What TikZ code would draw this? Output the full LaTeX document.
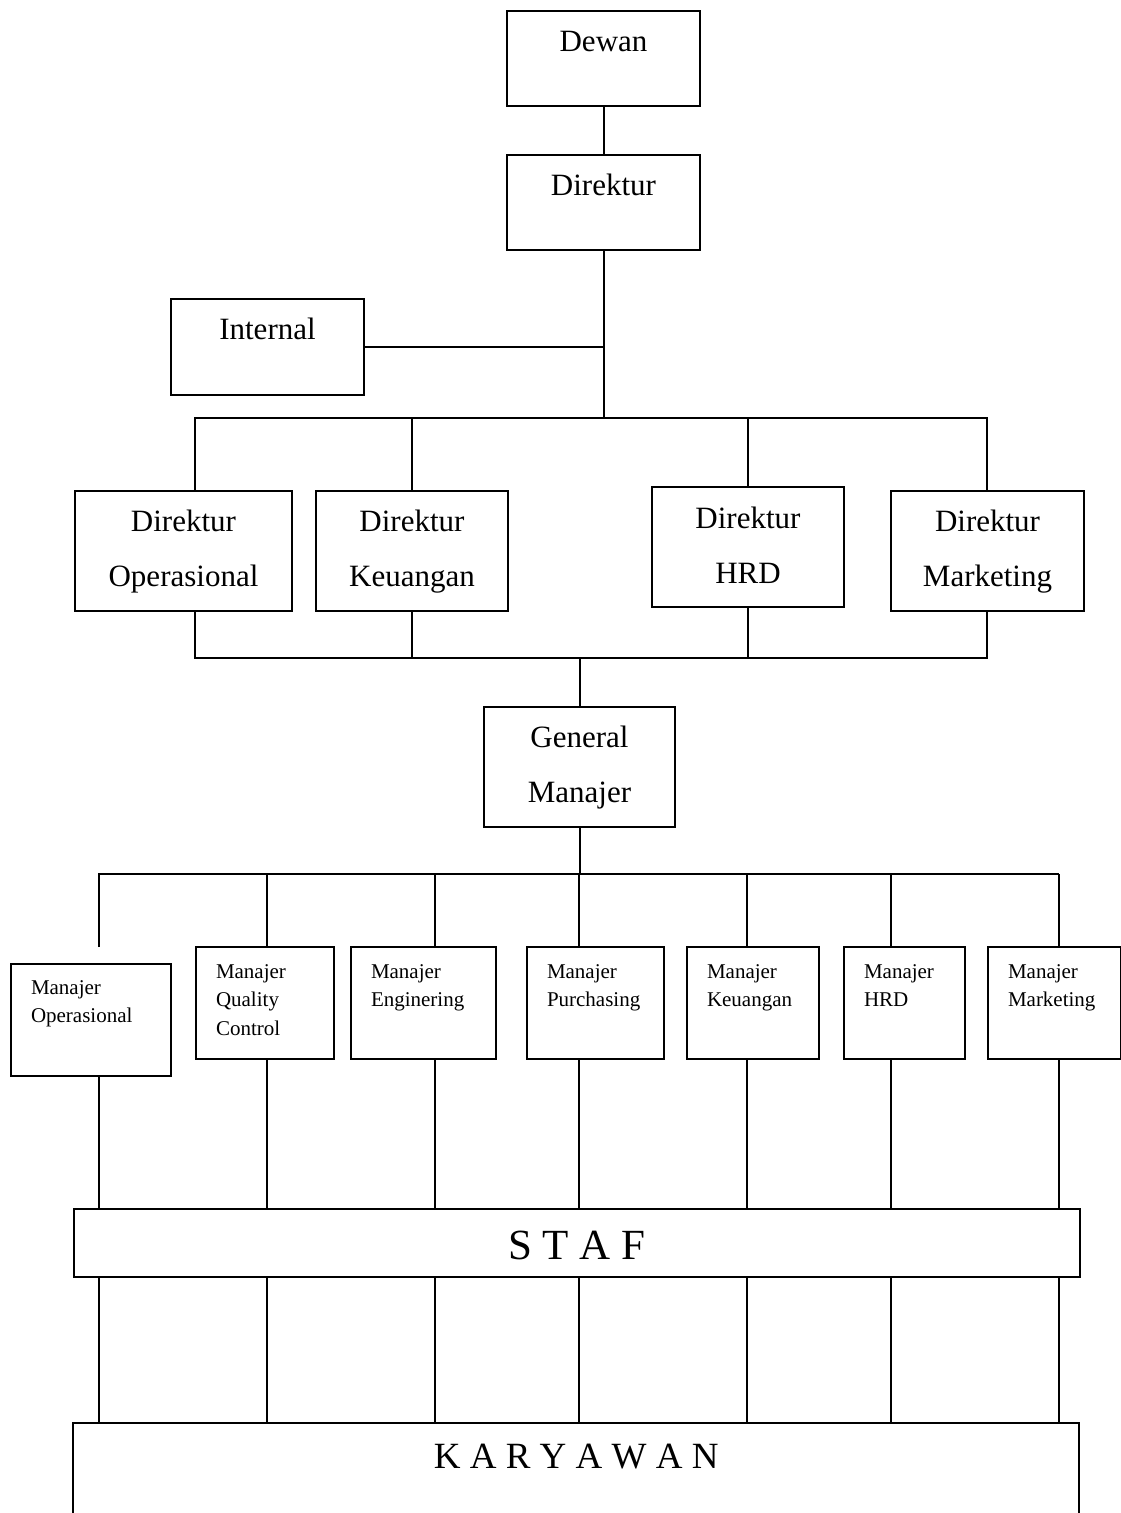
\documentclass[tikz,border=0pt]{standalone}
\usepackage{fontspec}
\setmainfont{Liberation Serif}
\newcommand\ccol[1]{\begin{tabular}[t]{@{}c@{}}#1\end{tabular}}
\newcommand\lcol[1]{\begin{tabular}[t]{@{}l@{}}#1\end{tabular}}
\begin{document}
\begin{tikzpicture}[x=1pt,y=-1pt,
  lw/.style={line width=2pt},
  bigbox/.style={draw, lw, inner sep=0pt, anchor=north west,
    font=\fontsize{31}{55}\selectfont, text height=40pt},
  smallbox/.style={draw, lw, inner ysep=0pt, inner xsep=20pt, anchor=north west,
    align=left, font=\fontsize{21}{28.5}\selectfont, text depth=81pt},
  conn/.style={lw}]
\useasboundingbox (0,0) rectangle (1121,1513);

% top level
\node[bigbox, minimum width=193pt, text depth=55pt] (dewan) at (506,10) {Dewan};
\node[bigbox, minimum width=193pt, text depth=55pt] (direktur) at (506,154) {Direktur};
\node[bigbox, minimum width=193pt, text depth=56pt] (internal) at (170,298) {Internal};

% directors
\node[bigbox, minimum width=217pt, text depth=80pt] (dop) at (74,490) {\ccol{Direktur\\Operasional}};
\node[bigbox, minimum width=192pt, text depth=80pt] (dkeu) at (315,490) {\ccol{Direktur\\Keuangan}};
\node[bigbox, minimum width=192pt, text depth=79pt, text height=41pt] (dhrd) at (651,486) {\ccol{Direktur\\HRD}};
\node[bigbox, minimum width=193pt, text depth=80pt] (dmkt) at (890,490) {\ccol{Direktur\\Marketing}};

\node[bigbox, minimum width=191pt, text depth=80pt] (gm) at (483,706) {\ccol{General\\Manajer}};

% managers
\node[smallbox, text width=120pt, text height=30pt, text depth=82pt] (mop) at (10,963) {\lcol{Manajer\\Operasional}};
\node[smallbox, text width=98pt, text height=31pt] (mqc) at (195,946) {\lcol{Manajer\\Quality\\Control}};
\node[smallbox, text width=105pt, text height=31pt] (meng) at (350,946) {\lcol{Manajer\\Enginering}};
\node[smallbox, text width=97pt, text height=31pt] (mpur) at (526,946) {\lcol{Manajer\\Purchasing}};
\node[smallbox, text width=92pt, text height=31pt] (mkeu) at (686,946) {\lcol{Manajer\\Keuangan}};
\node[smallbox, text width=81pt, text height=31pt] (mhrd) at (843,946) {\lcol{Manajer\\HRD}};
\node[smallbox, text width=93pt, text height=31pt] (mmkt) at (987,946) {\lcol{Manajer\\Marketing}};

% staf and karyawan
\node[draw, lw, inner sep=0pt, anchor=north west, minimum width=1006pt,
  font=\fontsize{43}{50}\selectfont, text height=50pt, text depth=18pt] (staf) at (73,1208) {S T A F};
\node[inner sep=0pt, anchor=north west, minimum width=1006pt,
  font=\fontsize{37}{45}\selectfont, text height=45pt, text depth=45pt] (kary) at (73,1423) {K A R Y A W A N};
\draw[conn] (kary.south west) -- (kary.north west) -- (kary.north east) -- (kary.south east);

% connectors top
\draw[conn] (dewan.south) -- (direktur.north);
\coordinate (t1) at (195,418);
\coordinate (t4) at (987,418);
\draw[conn] (direktur.south) -- (direktur.south |- t1);
\draw[conn] (internal.east) -- (internal.east -| direktur.south);
\draw[conn] (t1 |- dop.north) -- (t1) -- (t4) -- (t4 |- dmkt.north);
\draw[conn] (dkeu.north |- t1) -- (dkeu.north);
\draw[conn] (dhrd.north |- t1) -- (dhrd.north);

\coordinate (u1) at (195,658);
\coordinate (u4) at (987,658);
\draw[conn] (u1 |- dop.south) -- (u1) -- (u4) -- (u4 |- dmkt.south);
\draw[conn] (dkeu.south) -- (dkeu.south |- u1);
\draw[conn] (dhrd.south) -- (dhrd.south |- u1);
\draw[conn] (gm.north |- u1) -- (gm.north);

% manager bar
\coordinate (k1) at (99,874);
\coordinate (k2) at (267,874);
\coordinate (k3) at (435,874);
\coordinate (k4) at (579,874);
\coordinate (k5) at (747,874);
\coordinate (k6) at (891,874);
\coordinate (k7) at (1059,874);
\coordinate (k1e) at (99,947);
\draw[conn] (gm.south) -- (gm.south |- k1);
\draw[conn] (k1e) -- (k1) -- (k7);
\foreach \k/\m in {k2/mqc,k3/meng,k4/mpur,k5/mkeu,k6/mhrd,k7/mmkt}{
  \draw[conn] (\k) -- (\k |- \m.north);
  \draw[conn] (\k |- \m.south) -- (\k |- staf.north);
}
\draw[conn] (k1 |- mop.south) -- (k1 |- staf.north);
\foreach \k in {k1,k2,k3,k4,k5,k6,k7}{
  \draw[conn] (\k |- staf.south) -- (\k |- kary.north);
}
\end{tikzpicture}
\end{document}
